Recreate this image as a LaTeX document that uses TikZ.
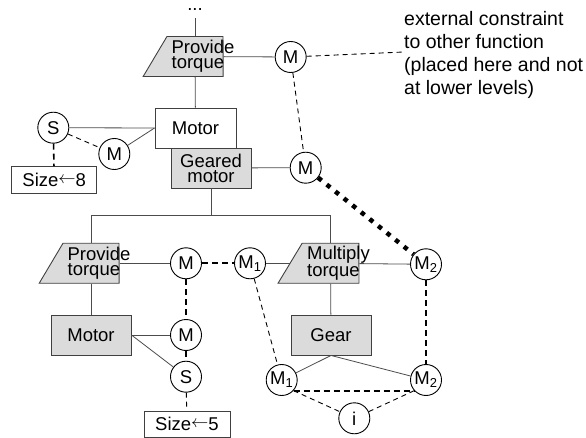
\documentclass[tikz,border=0pt]{standalone}
\usepackage{fontspec}
\setmainfont{Liberation Sans}
\usepackage{tikz}
\usetikzlibrary{shapes.geometric}
\usetikzlibrary{positioning}

\newcommand{\valarrow}{\raisebox{3pt}{\(\leftarrow\)}}

\begin{document}
\begin{tikzpicture}[x=1pt,y=-1pt,
        box/.style={draw=black!75, line width=0.9pt, minimum width=80pt, minimum height=40pt,
            inner sep=0pt, align=center, font=\fontsize{18.5}{15}\selectfont},
        gbox/.style={box, fill=black!14},
        fun/.style={gbox, trapezium, trapezium left angle=67, trapezium right angle=89.9,
            trapezium stretches=true, inner sep=2pt},
        funtext/.style={font=\fontsize{18.5}{15}\selectfont, align=left, inner sep=0pt, xshift=8pt},
        var/.style={circle, draw, line width=0.9pt, minimum size=31pt, inner sep=0pt, fill=white,
            font=\fontsize{18.5}{18.5}\selectfont},
        valbox/.style={draw=black!75, line width=0.9pt, minimum width=85pt, minimum height=26.7pt,
            inner sep=0pt, font=\fontsize{18.5}{18.5}\selectfont},
        note/.style={font=\fontsize{19.5}{23.3}\selectfont, align=left, inner sep=0pt},
        conn/.style={black!70, line width=0.8pt},
        thindash/.style={line width=0.9pt, dash pattern=on 5pt off 4pt},
        thickdash/.style={line width=2pt, dash pattern=on 6pt off 4pt},
        dotlink/.style={line width=4.5pt, dash pattern=on 4.5pt off 6.5pt}]
    \useasboundingbox (0,0) rectangle (586,438);

    % upper level
    \node[anchor=base, inner sep=0pt, text height=3pt, text depth=0pt,
        font=\fontsize{18.5}{18.5}\selectfont] (dots) at (195,10.5) {...};
    \coordinate (dotsend) at (195,18);
    \node[fun, label={[funtext]center:{Provide\\torque}}] (pt) at (195,56.5) {};
    \node[var] (mt) at (290.7,57) {M};
    \node[note, anchor=west] (ext) at (404,55) {external constraint\\to other function\\(placed here and not\\at lower levels)};
    \node[box, minimum width=81pt] (motor) at (195.5,128) {Motor};
    \node[var] (sa) at (53.3,127.7) {S};
    \node[var] (ma) at (114.3,154) {M};
    \node[valbox] (size8) at (54.2,180) {Size\valarrow8};
    \node[gbox] (gm) at (211,168) {Geared\\motor};
    \node[var] (mg) at (305.7,167.7) {M};
    \coordinate (split) at (211,215.5);

    % lower level
    \node[fun, label={[funtext]center:{Provide\\torque}}] (ptl) at (91,263.3) {};
    \node[var] (mp) at (186,263.3) {M};
    \node[var] (mb) at (250,263.3) {M\textsubscript{1}};
    \node[fun, minimum width=81pt, label={[funtext]center:{Multiply\\torque}}] (mul) at (330.5,263.3) {};
    \node[var] (mc) at (426,264.3) {M\textsubscript{2}};
    \node[gbox] (motl) at (91,335) {Motor};
    \node[var] (mm) at (186,335) {M};
    \node[var] (sl) at (186,376.7) {S};
    \node[valbox, minimum width=86pt] (size5) at (187,424.3) {Size\valarrow5};
    \node[gbox] (gear) at (331,335) {Gear};
    \node[var] (md) at (281.7,380) {M\textsubscript{1}};
    \node[var] (me) at (426,380) {M\textsubscript{2}};
    \node[var] (ii) at (354.3,418.3) {i};

    % structure
    \draw[conn] (dotsend) -- (pt);
    \draw[conn] (pt) -- (mt);
    \draw[conn] (pt) -- (motor);
    \draw[conn] (sa) -- (motor.west);
    \draw[conn] (ma) -- (motor.west);
    \draw[conn] (gm) -- (mg);
    \draw[conn] (gm) -- (split);
    \draw[conn] (ptl.north) |- (split) -| (mul.north);
    \draw[conn] (ptl) -- (mp);
    \draw[conn] (mb) -- (mul);
    \draw[conn] (mul) -- (mc);
    \draw[conn] (ptl) -- (motl);
    \draw[conn] (mul) -- (gear);
    \draw[conn] (motl.east) -- (mm);
    \draw[conn] (motl.east) -- (sl);
    \draw[conn] (gear.south) -- (md);
    \draw[conn] (gear.south) -- (me);

    % constraints
    \draw[thindash] (mt) -- ([yshift=3pt]ext.west);
    \draw[thindash] (mt) -- (mg);
    \draw[thindash] (sa) -- (ma);
    \draw[thickdash, line width=1.6pt] (sa) -- (size8);
    \draw[dotlink] (mg) -- (mc);
    \draw[thickdash] (mp) -- (mb);
    \draw[thickdash] (mp) -- (mm);
    \draw[thickdash] (mm) -- (sl);
    \draw[thindash] (sl) -- (size5);
    \draw[thindash] (mb) -- (md);
    \draw[thickdash] (mc) -- (me);
    \draw[thickdash] (md.-42) -- (me.-138);
    \draw[thindash] (md.-42) -- (ii);
    \draw[thindash] (me.-138) -- (ii);
\end{tikzpicture}
\end{document}
